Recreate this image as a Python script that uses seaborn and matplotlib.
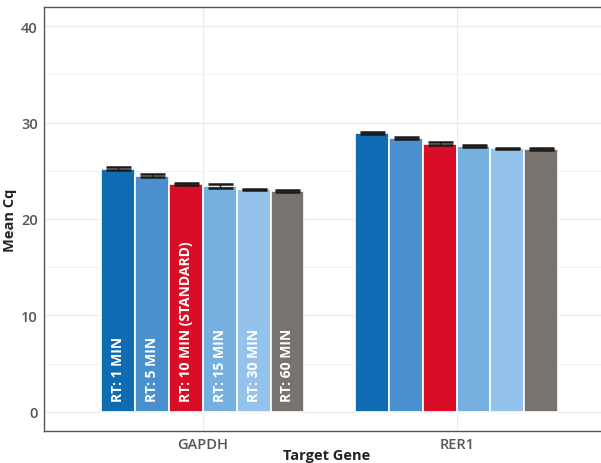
import numpy as np
import pandas as pd
import seaborn as sns
import matplotlib.pyplot as plt

# data
genes = ["GAPDH", "RER1"]
conditions = ["RT: 1 MIN", "RT: 5 MIN", "RT: 10 MIN (STANDARD)",
              "RT: 15 MIN", "RT: 30 MIN", "RT: 60 MIN"]
gapdh_cq = [25.2, 24.5, 23.6, 23.4, 23.1, 22.9]
rer1_cq = [28.9, 28.4, 27.8, 27.55, 27.35, 27.25]
gapdh_err = [0.15, 0.2, 0.12, 0.18, 0.05, 0.12]
rer1_err = [0.1, 0.15, 0.15, 0.08, 0.05, 0.08]
colors = ["#0f6cb3", "#4b90ce", "#d90d25", "#76b0e0", "#93c2ea", "#797370"]

df = pd.DataFrame({
    "Target Gene": np.repeat(genes, len(conditions)),
    "Condition": conditions * 2,
    "Mean Cq": gapdh_cq + rer1_cq,
    "err": gapdh_err + rer1_err,
})

sns.set_theme(style="whitegrid")
plt.rcParams['font.family'] = ['Open Sans', 'DejaVu Sans']

fig = plt.figure(figsize=(6.01, 4.64), dpi=100)
# right edge of the panel runs past the picture
ax = fig.add_axes([0.0732, 0.069, 0.94, 0.914])

sns.barplot(data=df, x="Target Gene", y="Mean Cq", hue="Condition",
            palette=colors, saturation=1, width=0.8, errorbar=None, ax=ax,
            edgecolor="white", linewidth=1.2, legend=False, zorder=2)

# error bars and in-bar labels
bars = [p for p in ax.patches if p.get_height() > 0]
bars.sort(key=lambda p: p.get_x())
rows = df.set_index(["Target Gene", "Condition"])
i = 0
for g in genes:
    for c in conditions:
        p = bars[i]
        xc = p.get_x() + p.get_width() / 2
        m = rows.loc[(g, c), "Mean Cq"]
        e = rows.loc[(g, c), "err"]
        ax.errorbar(xc, m, yerr=e, color="#1a1a1a", capsize=9, elinewidth=1,
                    capthick=1.8, zorder=3)
        if g == "GAPDH":
            ax.text(xc, 1.1, c, rotation=90, ha="center", va="bottom",
                    color="white", fontsize=10, fontweight="bold", zorder=4)
        i += 1

ax.set_ylim(-2, 42)
ax.set_xlim(-0.626, 1.6)
ax.set_yticks([0, 10, 20, 30, 40])
ax.set_yticks([5, 15, 25, 35], minor=True)
ax.grid(True, which="major", color="#ebebeb", linewidth=0.9, zorder=0)
ax.grid(True, which="minor", axis="y", color="#f2f2f2", linewidth=0.7, zorder=0)
ax.set_axisbelow(True)

for s in ax.spines.values():
    s.set_color("#5a5450")
    s.set_linewidth(1.0)
ax.tick_params(axis="both", colors="#5a5450", labelcolor="#555555",
               length=3, width=0.8, labelsize=10.5, pad=1.5)
ax.tick_params(axis="both", which="minor", length=0)
for lab in ax.get_xticklabels() + ax.get_yticklabels():
    lab.set_fontweight("semibold")

ax.set_xlabel("Target Gene", fontsize=10.5, fontweight="bold", color="#222222", labelpad=-2)
ax.set_ylabel("Mean Cq", fontsize=10.5, fontweight="bold", color="#222222", labelpad=3)

plt.savefig("out.png", dpi=100)
